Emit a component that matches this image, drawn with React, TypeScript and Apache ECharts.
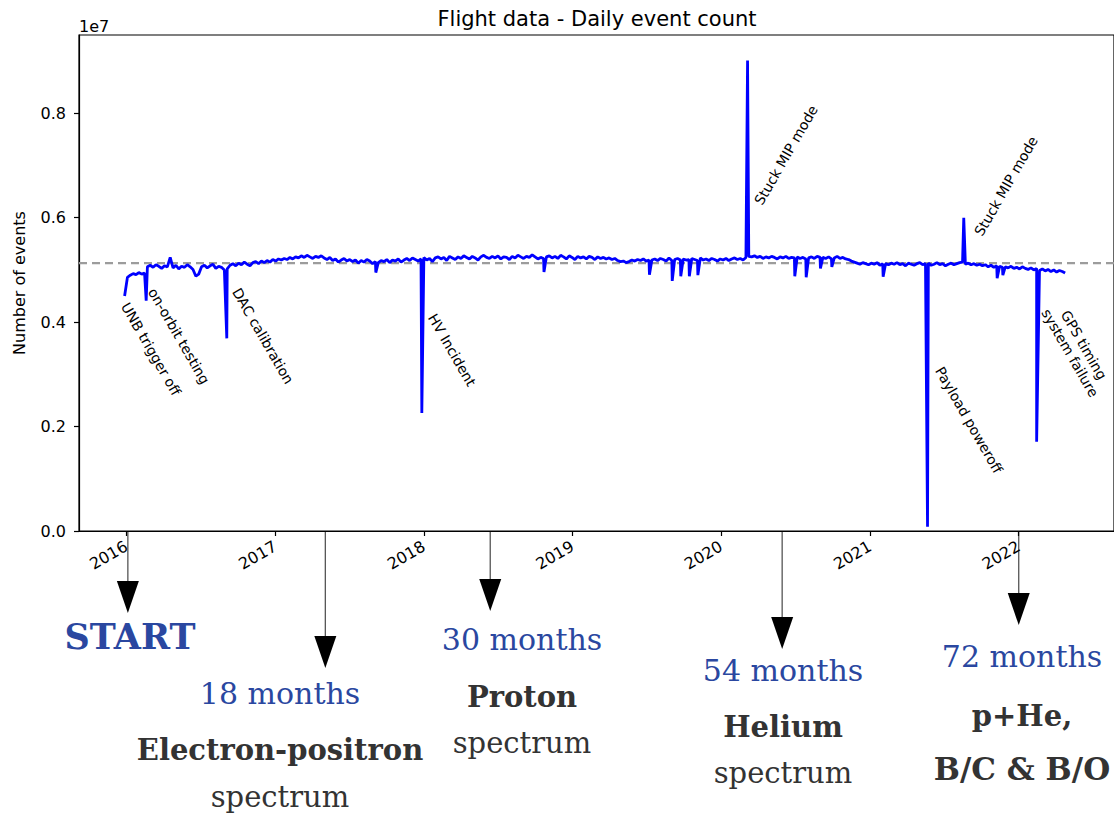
import React, { useEffect, useRef } from "react";
import * as echarts from "echarts";

const DAY = 86400000;

// Daily event count, one reading per week starting on WEEK_START (millions of events)
const WEEK_START = "2015-12-28";
const WEEKLY_COUNTS_M = [
  4.50, 4.86, 4.90, 4.93, 4.91, 4.95, 4.92, 4.94, 5.06, 5.09,
  5.05, 5.10, 5.07, 5.03, 5.08, 5.06, 5.24, 5.04, 5.09, 5.02,
  5.07, 5.05, 5.10, 5.06, 5.01, 4.88, 4.92, 5.06, 5.09, 5.04,
  5.08, 5.11, 5.03, 5.07, 5.05, 5.00, 5.02, 5.09, 5.12, 5.08,
  5.13, 5.10, 5.15, 5.11, 5.08, 5.14, 5.16, 5.12, 5.17, 5.14,
  5.18, 5.15, 5.20, 5.17, 5.21, 5.19, 5.22, 5.20, 5.24, 5.21,
  5.25, 5.23, 5.27, 5.24, 5.28, 5.25, 5.22, 5.26, 5.24, 5.27,
  5.23, 5.20, 5.24, 5.18, 5.21, 5.15, 5.19, 5.22, 5.17, 5.20,
  5.16, 5.19, 5.13, 5.18, 5.15, 5.20, 5.17, 5.12, 5.16, 5.14,
  5.18, 5.16, 5.20, 5.14, 5.19, 5.17, 5.21, 5.15, 5.19, 5.22,
  5.18, 5.23, 5.20, 5.17, 5.21, 5.24, 5.19, 5.22, 5.16, 5.23,
  5.25, 5.21, 5.24, 5.18, 5.26, 5.23, 5.20, 5.25, 5.22, 5.27,
  5.24, 5.21, 5.26, 5.23, 5.19, 5.25, 5.28, 5.24, 5.22, 5.26,
  5.23, 5.27, 5.21, 5.25, 5.24, 5.20, 5.26, 5.23, 5.28, 5.25,
  5.22, 5.26, 5.24, 5.29, 5.25, 5.21, 5.24, 5.22, 5.25, 5.27,
  5.23, 5.26, 5.22, 5.28, 5.25, 5.21, 5.27, 5.24, 5.20, 5.26,
  5.23, 5.25, 5.21, 5.26, 5.24, 5.20, 5.25, 5.22, 5.24, 5.21,
  5.23, 5.20, 5.22, 5.18, 5.16, 5.17, 5.14, 5.16, 5.19, 5.17,
  5.20, 5.18, 5.21, 5.17, 5.19, 5.19, 5.21, 5.18, 5.22, 5.20,
  5.17, 5.23, 5.18, 5.20, 5.22, 5.19, 5.21, 5.19, 5.20, 5.22,
  5.20, 5.18, 5.23, 5.19, 5.21, 5.18, 5.22, 5.20, 5.17, 5.21,
  5.19, 5.22, 5.18, 5.21, 5.23, 5.20, 5.22, 5.19, 5.24, 5.26,
  5.25, 5.27, 5.24, 5.26, 5.22, 5.25, 5.23, 5.26, 5.24, 5.21,
  5.25, 5.23, 5.26, 5.22, 5.24, 5.23, 5.25, 5.22, 5.24, 5.21,
  5.23, 5.25, 5.22, 5.26, 5.24, 5.24, 5.22, 5.25, 5.21, 5.23,
  5.26, 5.22, 5.24, 5.21, 5.20, 5.17, 5.15, 5.13, 5.11, 5.14,
  5.12, 5.10, 5.13, 5.11, 5.14, 5.09, 5.12, 5.12, 5.10, 5.13,
  5.11, 5.14, 5.10, 5.12, 5.08, 5.13, 5.11, 5.09, 5.12, 5.14,
  5.10, 5.12, 5.13, 5.09, 5.11, 5.14, 5.10, 5.12, 5.08, 5.11,
  5.13, 5.10, 5.12, 5.14, 5.15, 5.11, 5.13, 5.10, 5.12, 5.09,
  5.11, 5.08, 5.10, 5.06, 5.09, 5.05, 5.08, 5.07, 5.05, 5.06,
  5.04, 5.07, 5.03, 5.05, 5.02, 5.06, 5.03, 5.01, 5.04, 5.00,
  5.03, 4.99, 5.02, 4.98, 5.01, 4.97, 5.00, 4.96, 4.99, 4.97, 4.94,
];

// Labelled single-day anomalies (millions of events)
const EVENT_DATES = [
  "2016-02-19", "2016-09-04", "2017-12-27", "2020-03-06",
  "2021-05-22", "2021-08-19", "2022-02-14",
];
const EVENT_COUNTS_M = [4.41, 3.69, 2.26, 9.01, 0.08, 6.0, 1.71];

// Brief unlabelled drops (millions of events)
const DIP_DATES = [
  "2017-09-05", "2018-10-23", "2019-07-09", "2019-09-03", "2019-09-24",
  "2019-10-15", "2019-11-05", "2020-06-30", "2020-07-28", "2020-09-01",
  "2020-09-29", "2021-02-02", "2021-11-09", "2021-11-23",
];
const DIP_COUNTS_M = [
  4.95, 4.96, 4.91, 4.79, 4.88,
  4.88, 4.90, 4.88, 4.86, 5.03,
  5.06, 4.87, 4.84, 4.90,
];

const EVENT_NOTES = [
  "UNB trigger off",
  "on-orbit testing",
  "DAC calibration",
  "HV Incident",
  "Stuck MIP mode",
  "Stuck MIP mode",
  "Payload poweroff",
  "GPS timing\nsystem failure",
];

const NOMINAL_COUNT = 5.13e6;
const Y_MAX = 9.5e6;
const Y_STEP = 2e6;

const MILESTONE_DATES = ["2016-01-05", "2017-05-04", "2018-06-13", "2020-05-30", "2022-01-01"];
const MILESTONE_HEADS = ["START", "18 months", "30 months", "54 months", "72 months"];
const MILESTONE_RESULTS = [
  [],
  ["Electron-positron", "spectrum"],
  ["Proton", "spectrum"],
  ["Helium", "spectrum"],
  ["p+He,", "B/C & B/O"],
];

const utc = (s: string) => {
  const [y, m, d] = s.split("-").map(Number);
  return Date.UTC(y, m - 1, d);
};

const SANS = "DejaVu Sans";
const SERIF = "DejaVu Serif";
const BLUE_TEXT = "#2a47a0";
const GRAY_TEXT = "#333333";

export default function App() {
  const ref = useRef<HTMLDivElement>(null);

  useEffect(() => {
    document.body.style.margin = "0";
    if (!ref.current) return;
    const chart = echarts.init(ref.current, undefined, { renderer: "svg" });

    const x0 = utc("2015-09-07");
    const x1 = utc("2022-08-23");
    const start = utc(WEEK_START);
    const weekly = WEEKLY_COUNTS_M.map((v, i) => [start + i * 7 * DAY, v * 1e6]);
    const events = EVENT_DATES.map((d, i) => [utc(d), EVENT_COUNTS_M[i] * 1e6]);
    const dips = DIP_DATES.map((d, i) => [utc(d), DIP_COUNTS_M[i] * 1e6]);
    const points = [...weekly, ...events, ...dips].sort((a, b) => a[0] - b[0]);

    chart.setOption({
      animation: false,
      grid: {
        left: 79,
        top: 35,
        right: -2,
        bottom: 283,
        show: true,
        borderColor: "#000",
        borderWidth: 1.2,
      },
      xAxis: {
        type: "time",
        min: x0,
        max: x1,
        minInterval: 365 * DAY,
        maxInterval: 366 * DAY,
        splitLine: { show: false },
        axisLine: { lineStyle: { color: "#000", width: 1.2 } },
        axisTick: {
          length: 5,
          lineStyle: { color: "#000", width: 1.2 },
        },
        minorTick: { show: false },
        axisLabel: {
          rotate: 30,
          margin: 14,
          fontSize: 16,
          fontFamily: SANS,
          color: "#000",
          showMinLabel: false,
          showMaxLabel: false,
          formatter: (v: number) => String(new Date(v).getUTCFullYear()),
        },
      },
      yAxis: {
        type: "value",
        min: 0,
        max: Y_MAX,
        interval: Y_STEP,
        name: "Number of events",
        nameLocation: "middle",
        nameGap: 52,
        nameTextStyle: { fontSize: 16, fontFamily: SANS, color: "#000" },
        splitLine: { show: false },
        axisLine: { show: true, lineStyle: { color: "#000", width: 1.2 } },
        axisTick: { show: true, length: 5, lineStyle: { color: "#000", width: 1.2 } },
        axisLabel: {
          fontSize: 16,
          fontFamily: SANS,
          color: "#000",
          margin: 13,
          showMaxLabel: false,
          formatter: (v: number) => (v / 1e7).toFixed(1),
        },
      },
      series: [
        {
          type: "line",
          z: 1,
          silent: true,
          showSymbol: false,
          data: [
            [x0, NOMINAL_COUNT],
            [x1, NOMINAL_COUNT],
          ],
          lineStyle: { color: "#9c9c9c", width: 2.2, type: [8, 5] },
        },
        {
          type: "line",
          z: 2,
          showSymbol: false,
          data: points,
          lineStyle: { color: "#0000ff", width: 2.8 },
          itemStyle: { color: "#0000ff" },
        },
      ],
    });

    const axisY = chart.convertToPixel({ yAxisIndex: 0 }, 0) as number;
    const arrowTips = [613, 668, 611, 649, 625];
    const graphics: any[] = [];

    // Title and exponent marker
    graphics.push({
      type: "text",
      x: 597,
      y: 19,
      style: {
        text: "Flight data - Daily event count",
        fontSize: 21,
        fontFamily: SANS,
        fill: "#000",
        textAlign: "center",
        textVerticalAlign: "middle",
      },
    });
    graphics.push({
      type: "text",
      x: 79,
      y: 26,
      style: {
        text: "1e7",
        fontSize: 16,
        fontFamily: SANS,
        fill: "#000",
        textAlign: "left",
        textVerticalAlign: "middle",
      },
    });

    // Rotated notes beside each anomaly: [centre x, centre y, angle in degrees]
    const notePlacement: [number, number, number][] = [
      [151, 349, -60],
      [179, 336, -60],
      [263, 336, -60],
      [452, 350, -60],
      [786, 155, 60],
      [1006, 186, 60],
      [969, 420, -60],
      [1077, 349, -60],
    ];
    EVENT_NOTES.forEach((note, i) => {
      const [cx, cy, deg] = notePlacement[i];
      graphics.push({
        type: "text",
        x: cx,
        y: cy,
        rotation: (deg * Math.PI) / 180,
        style: {
          text: note,
          fontSize: 14,
          lineHeight: 16,
          fontFamily: SANS,
          fill: "#000",
          textAlign: "center",
          textVerticalAlign: "middle",
        },
      });
    });

    // Milestone arrows below the time axis
    MILESTONE_DATES.forEach((d, i) => {
      const x = chart.convertToPixel({ xAxisIndex: 0 }, utc(d)) as number;
      const tip = arrowTips[i];
      const headTop = tip - 32;
      graphics.push({
        type: "line",
        shape: { x1: x, y1: axisY, x2: x, y2: headTop + 2 },
        style: { stroke: "#555", lineWidth: 1.3 },
      });
      graphics.push({
        type: "polygon",
        shape: {
          points: [
            [x - 11, headTop],
            [x + 11, headTop],
            [x, tip],
          ],
        },
        style: { fill: "#000" },
      });
    });

    // Milestone captions: [centre x, head y, result line y's]
    const captionPlacement: [number, number, number[]][] = [
      [130, 636, []],
      [280, 693, [750, 797]],
      [522, 639, [697, 743]],
      [783, 670, [727, 773]],
      [1022, 656, [716, 769]],
    ];
    MILESTONE_HEADS.forEach((head, i) => {
      const [cx, hy, ry] = captionPlacement[i];
      const isStart = i === 0;
      graphics.push({
        type: "text",
        x: cx,
        y: hy,
        style: {
          text: head,
          fontSize: isStart ? 35 : 30,
          fontWeight: isStart ? "bold" : "normal",
          fontFamily: SERIF,
          fill: BLUE_TEXT,
          textAlign: "center",
          textVerticalAlign: "middle",
        },
      });
      MILESTONE_RESULTS[i].forEach((line, j) => {
        const bold = line !== "spectrum";
        const wide = line.includes("&");
        graphics.push({
          type: "text",
          x: cx,
          y: ry[j],
          style: {
            text: line,
            fontSize: wide ? 31 : 29,
            fontWeight: bold ? "bold" : "normal",
            fontFamily: SERIF,
            fill: GRAY_TEXT,
            textAlign: "center",
            textVerticalAlign: "middle",
          },
        });
      });
    });

    chart.setOption({ graphic: graphics });

    return () => chart.dispose();
  }, []);

  return <div ref={ref} style={{ width: 1114, height: 814 }} />;
}
